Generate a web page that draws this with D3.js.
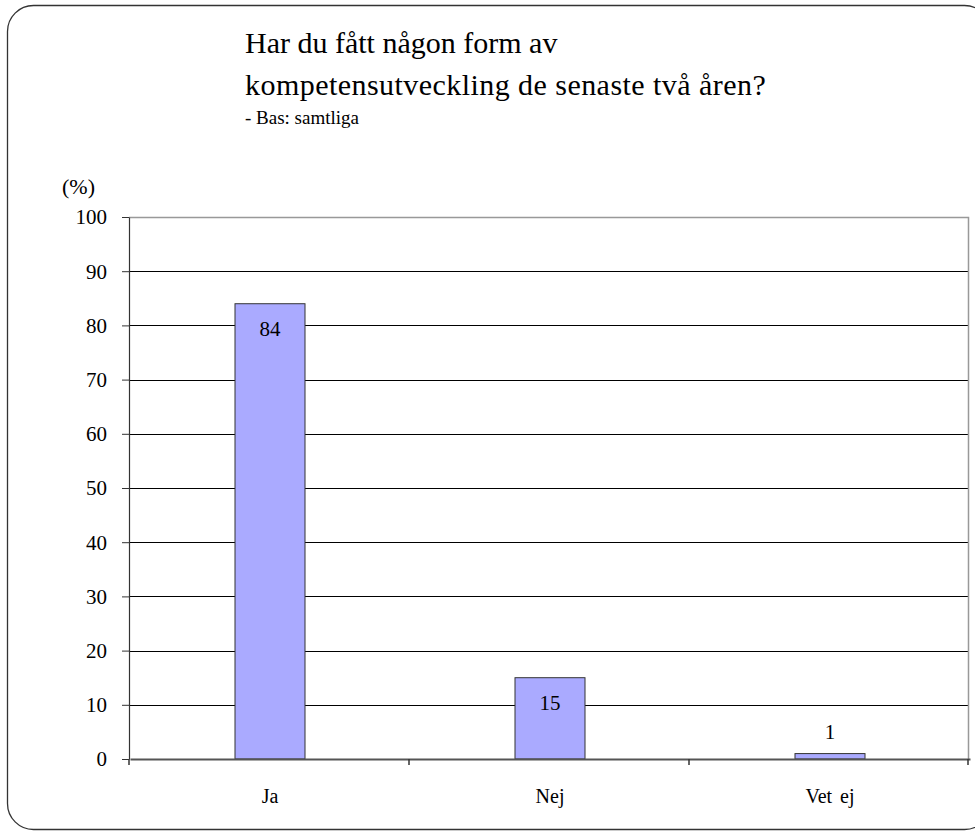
<!DOCTYPE html>
<html>
<head>
<meta charset="utf-8">
<script src="https://cdn.jsdelivr.net/npm/d3@7"></script>
<style>
  html, body { margin: 0; padding: 0; background: #fff; }
  svg { display: block; }
  svg text { font-family: "Liberation Serif", Tinos, Times, serif; }
</style>
</head>
<body>
<svg id="chart" width="975" height="832" font-family="Liberation Serif"></svg>
<script>
const categories = ["Ja", "Nej", "Vet ej"];
const values = [84, 15, 1];
const yTicks = [0, 10, 20, 30, 40, 50, 60, 70, 80, 90, 100];
const titleLines = ["Har du fått någon form av", "kompetensutveckling de senaste två åren?"];
const subtitle = "- Bas: samtliga";
const yUnit = "(%)";

const FONT = "Liberation Serif";
const svg = d3.select("#chart");
const W = 975, H = 832;
const margin = { left: 129, right: 6, top: 217, bottom: 73 };
const x0 = margin.left, x1 = W - margin.right;
const y0 = H - margin.bottom, y1 = margin.top;

function serif(sel) {
  return sel.attr("font-family", FONT).style("font-family", FONT);
}

// outer rounded frame
svg.append("rect")
  .attr("x", 7.5).attr("y", 5.5)
  .attr("width", 983).attr("height", 824)
  .attr("rx", 26).attr("ry", 26)
  .attr("fill", "none").attr("stroke", "#333").attr("stroke-width", 1.3);

// titles
const title = svg.append("g");
title.selectAll("text.t").data(titleLines).join("text")
  .attr("class", "t")
  .attr("x", 245).attr("y", (d, i) => 53 + i * 42)
  .attr("font-size", 30)
  .attr("letter-spacing", (d, i) => i === 1 ? 0.45 : 0)
  .call(serif)
  .text(d => d);
title.append("text")
  .attr("x", 245).attr("y", 124)
  .attr("font-size", 19)
  .call(serif)
  .text(subtitle);

const x = d3.scaleBand().domain(categories).range([x0, x1]).padding(0);
const y = d3.scaleLinear().domain([0, 100]).range([y0, y1]);

// gridlines
svg.append("g")
  .selectAll("line").data(yTicks.filter(t => t > 0 && t < 100)).join("line")
  .attr("x1", x0).attr("x2", x1)
  .attr("y1", d => Math.round(y(d)) + 0.5).attr("y2", d => Math.round(y(d)) + 0.5)
  .attr("stroke", "#000").attr("stroke-width", 1);

// plot border top/right
svg.append("path")
  .attr("d", `M${x0},${Math.round(y1) + 0.5}H${x1 - 0.5}V${y0}`)
  .attr("fill", "none").attr("stroke", "#999").attr("stroke-width", 1.5);

// bars
const barW = x.bandwidth() * 0.25;
svg.append("g").selectAll("rect").data(values).join("rect")
  .attr("x", (d, i) => x(categories[i]) + (x.bandwidth() - barW) / 2 + 1)
  .attr("y", d => y(d))
  .attr("width", barW)
  .attr("height", d => y0 - y(d))
  .attr("fill", "#aaaaff")
  .attr("stroke", "#333").attr("stroke-width", 1);

// data labels
svg.append("g").selectAll("text").data(values).join("text")
  .attr("x", (d, i) => x(categories[i]) + x.bandwidth() / 2 + 1)
  .attr("y", d => (y0 - y(d) > 40) ? y(d) + 32 : y(d) - 15)
  .attr("text-anchor", "middle")
  .attr("font-size", 21)
  .call(serif)
  .text(d => d);

// y axis
const yAxis = d3.axisLeft(y).tickValues(yTicks).tickSize(7).tickPadding(15).tickSizeOuter(0);
const gy = svg.append("g").attr("transform", `translate(${x0},0)`).call(yAxis);
gy.attr("font-family", FONT).attr("font-size", 21);
gy.select(".domain").attr("stroke", "#333").attr("stroke-width", 1.2);
gy.selectAll(".tick line").attr("stroke", "#333");
gy.selectAll(".tick text").attr("font-size", 21).call(serif).attr("fill", "#000").attr("dy", "0.33em");

// x axis
const xAxis = d3.axisBottom(x).tickSize(0).tickPadding(30);
const gx = svg.append("g").attr("transform", `translate(1,${y0})`).call(xAxis);
gx.attr("font-family", FONT).attr("font-size", 20);
gx.select(".domain").attr("stroke", "#555").attr("stroke-width", 2);
gx.selectAll(".tick text").attr("font-size", 20).attr("word-spacing", 3).call(serif).attr("fill", "#000");
// category boundary ticks
svg.append("g").selectAll("line")
  .data(categories.map((c, i) => i === 0 ? x0 : x(c)).concat([x1 - 1]))
  .join("line")
  .attr("x1", d => d).attr("x2", d => d)
  .attr("y1", y0).attr("y2", y0 + 6)
  .attr("stroke", "#333").attr("stroke-width", 1.5);

// unit label
svg.append("text").attr("x", 62).attr("y", 194).attr("font-size", 22)
  .call(serif).text(yUnit);
</script>
</body>
</html>
